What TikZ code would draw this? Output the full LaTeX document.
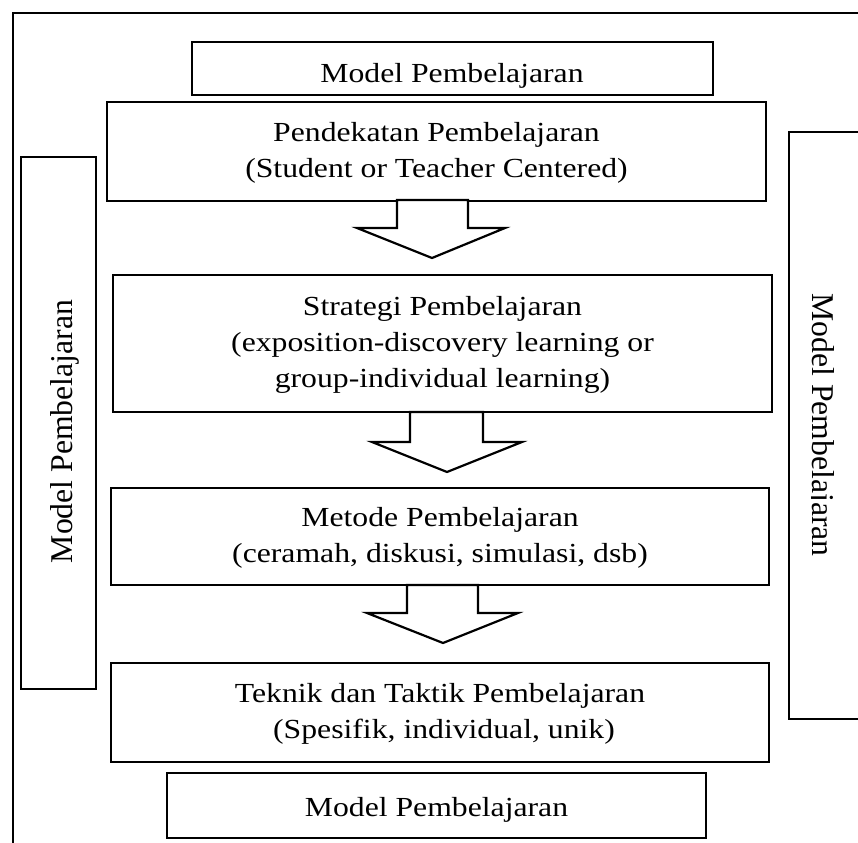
\documentclass[tikz,border=0pt]{standalone}
\usepackage{fontspec}
\setmainfont{Liberation Serif}
\usepackage{graphicx}
\newcommand\sqz[1]{\scalebox{1}[0.87]{#1}}
\begin{document}
\begin{tikzpicture}[x=1pt,y=-1pt,
  box/.style={draw, line width=2.7pt, rectangle, inner sep=0pt, outer sep=0pt, fill=white},
  txt/.style={font=\fontsize{31.7}{36}\selectfont, inner sep=0pt, anchor=base},
  blockarrow/.style={draw, line width=2.2pt, fill=white, line join=miter}]
\useasboundingbox (0,0) rectangle (858,842);
\clip (0,0) rectangle (858,842);
% outer frame (cut off at right and bottom)
\draw[line width=2.7pt] (13,13) rectangle (900,900);

% boxes
\node[box, minimum width=521pt, minimum height=53pt] (topm) at (452.5,68.5) {};
\node[box, minimum width=659pt, minimum height=99pt] (pend) at (436.5,151.5) {};
\node[box, minimum width=659pt, minimum height=137pt] (strat) at (442.5,343.5) {};
\node[box, minimum width=658pt, minimum height=97pt] (metode) at (440,536.5) {};
\node[box, minimum width=658pt, minimum height=99pt] (teknik) at (440,712.5) {};
\node[box, minimum width=539pt, minimum height=65pt] (botm) at (436.5,805.5) {};
\node[box, minimum width=75pt, minimum height=532pt] (lside) at (58.5,423) {};
\node[box, minimum width=111pt, minimum height=587pt] (rside) at (844.5,425.5) {};

% block arrows
\draw[blockarrow] (397,200) -- (468,200) -- (468,228) -- (505,228) -- (432,258) -- (357,228) -- (397,228) -- cycle;
\draw[blockarrow] (410,412) -- (483,412) -- (483,442) -- (522,442) -- (447,472) -- (372,442) -- (410,442) -- cycle;
\draw[blockarrow] (407,585) -- (478,585) -- (478,613) -- (518,613) -- (443,643) -- (367,613) -- (407,613) -- cycle;

% texts
\node[txt] (topmt) at (452,83) {\sqz{Model Pembelajaran}};
\node[txt] (pend1) at (436.5,142) {\sqz{Pendekatan Pembelajaran}};
\node[txt] (pend2) at (436.5,178) {\sqz{(Student or Teacher Centered)}};
\node[txt] (strat1) at (442.5,315) {\sqz{Strategi Pembelajaran}};
\node[txt] (strat2) at (442.5,351) {\sqz{(exposition-discovery learning or}};
\node[txt] (strat3) at (442.5,387) {\sqz{group-individual learning)}};
\node[txt] (met1) at (440,526) {\sqz{Metode Pembelajaran}};
\node[txt] (met2) at (440,562) {\sqz{(ceramah, diskusi, simulasi, dsb)}};
\node[txt] (tek1) at (440,702) {\sqz{Teknik dan Taktik Pembelajaran}};
\node[txt] (tek2) at (444,738) {\sqz{(Spesifik, individual, unik)}};
\node[txt] (botmt) at (436.5,816) {\sqz{Model Pembelajaran}};
\node[txt, rotate=90] (ltxt) at (72,431.5) {Model Pembelajaran};
\begin{scope}
\clip (811,0) rectangle (858,842);
\node[txt, rotate=-90] (rtxt) at (812,425) {Model Pembelajaran};
\end{scope}
\end{tikzpicture}
\end{document}
